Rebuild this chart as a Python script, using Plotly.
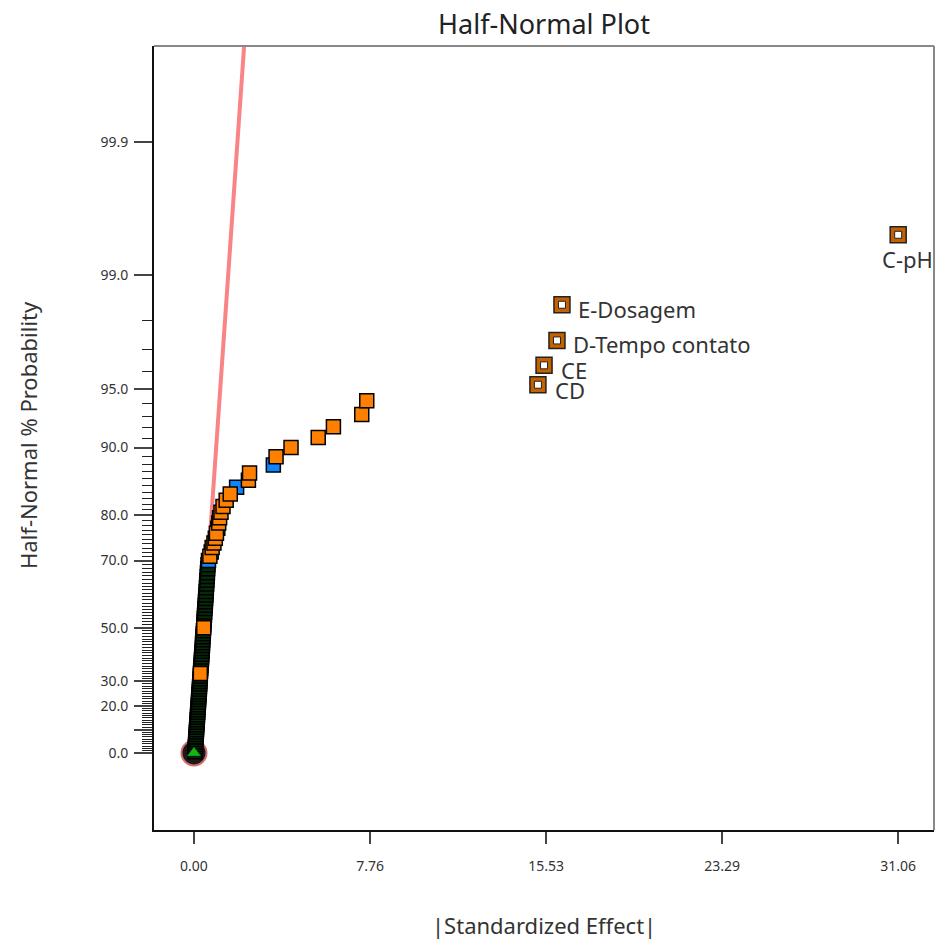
import plotly.graph_objects as go
from statistics import NormalDist

# ---------------- data ----------------
error_effects = [
    0.044, 0.051, 0.059, 0.066, 0.074, 0.082, 0.089, 0.096, 0.104, 0.112,
    0.119, 0.127, 0.135, 0.142, 0.150, 0.157, 0.165, 0.173, 0.181, 0.189,
    0.197, 0.205, 0.213, 0.221, 0.229, 0.237, 0.245, 0.253, 0.259, 0.268,
    0.277, 0.293, 0.302, 0.311, 0.319, 0.328, 0.337, 0.346, 0.355, 0.364,
    0.374, 0.378, 0.387, 0.397, 0.406, 0.415, 0.436, 0.444, 0.453, 0.463,
    0.473, 0.483, 0.494, 0.504, 0.515, 0.526, 0.536, 0.547, 0.559, 0.570,
    0.582, 0.593, 0.605, 0.618,
]
positive_effects = [0.28, 0.43, 0.70, 0.80, 0.88, 0.94, 0.99, 1.09, 1.13, 1.19,
                    1.28, 1.42, 1.60, 2.40, 2.45, 3.62, 4.28, 5.48, 6.15, 7.40, 7.62]
negative_effects = [0.64, 0.76, 1.05, 1.88, 3.50]
labeled_names = ["CD", "CE", "D-Tempo contato", "E-Dosagem", "C-pH"]
labeled_effects = [15.17, 15.44, 16.01, 16.23, 31.06]

origin_effect = [0.0]
origin_prob = [0.0]

prob_ticks = [0.0, 10.0, 20.0, 30.0, 50.0, 70.0, 80.0, 90.0, 95.0, 99.0, 99.9]
prob_labels = ["0.0", "", "20.0", "30.0", "50.0", "70.0", "80.0", "90.0", "95.0", "99.0", "99.9"]
minor_probs = [p for p in range(1, 99) if p not in (10, 20, 30, 50, 70, 80, 90, 95)]
x_tick_labels = ["0.00", "7.76", "15.53", "23.29", "31.06"]

# ---------------- half-normal scale ----------------
nd = NormalDist()


def hn(p_percent):
    return nd.inv_cdf(0.5 + 0.5 * p_percent / 100.0)


items = ([(v, "err", None) for v in error_effects]
         + [(v, "pos", None) for v in positive_effects]
         + [(v, "neg", None) for v in negative_effects]
         + [(v, "lab", nm) for v, nm in zip(labeled_effects, labeled_names)])
items.sort(key=lambda t: t[0])
n = len(items)
zs = [nd.inv_cdf(0.5 + 0.5 * (i + 0.5) / n) for i in range(n)]

groups = {"err": ([], []), "pos": ([], []), "neg": ([], []), "lab": ([], [])}
lab_text = []
for (v, k, nm), z in zip(items, zs):
    groups[k][0].append(v)
    groups[k][1].append(z)
    if k == "lab":
        lab_text.append(nm)

# least-squares line (z on effect) fitted to the error estimates
ex, ez = groups["err"]
mx = sum(ex) / len(ex)
mz = sum(ez) / len(ez)
slope = sum((a - mx) * (b - mz) for a, b in zip(ex, ez)) / sum((a - mx) ** 2 for a in ex)
icpt = mz - slope * mx

y_top = 3.807
y_bot = -0.4147
x_left = -1.764
x_right = 32.64
line_z = [0.0, y_top * 1.02]
line_x = [(z - icpt) / slope for z in line_z]

xmax = max(labeled_effects)
x_ticks = [xmax * k / 4 for k in range(5)]

fig = go.Figure()

fig.add_trace(go.Scatter(
    x=line_x, y=line_z, mode="lines",
    line=dict(color="#f98486", width=4), hoverinfo="skip", showlegend=False))

fig.add_trace(go.Scatter(
    x=origin_effect, y=origin_prob, mode="markers",
    marker=dict(symbol="circle", size=25, color="#1a1a1a",
                line=dict(color="#d86a6a", width=2)), showlegend=False))

fig.add_trace(go.Scatter(
    x=groups["err"][0], y=groups["err"][1], mode="markers",
    marker=dict(symbol="square", size=14, color="#072a0a",
                line=dict(color="#000000", width=1.5)), showlegend=False))

fig.add_trace(go.Scatter(
    x=groups["neg"][0], y=groups["neg"][1], mode="markers",
    marker=dict(symbol="square", size=14, color="#0a84ff",
                line=dict(color="#000000", width=1.5)), showlegend=False))

fig.add_trace(go.Scatter(
    x=groups["pos"][0], y=groups["pos"][1], mode="markers",
    marker=dict(symbol="square", size=14, color="#ff8000",
                line=dict(color="#000000", width=1.5)), showlegend=False))

fig.add_trace(go.Scatter(
    x=groups["lab"][0], y=groups["lab"][1], mode="markers",
    marker=dict(symbol="square", size=16, color="#c46200",
                line=dict(color="#222222", width=1.5)), showlegend=False))
fig.add_trace(go.Scatter(
    x=groups["lab"][0], y=groups["lab"][1], mode="markers",
    marker=dict(symbol="square", size=7, color="#ffffff",
                line=dict(color="#222222", width=1)), showlegend=False))

fig.add_trace(go.Scatter(
    x=origin_effect, y=origin_prob, mode="markers",
    marker=dict(symbol="triangle-up", size=12, color="#16b516",
                line=dict(color="#0a5a0a", width=0.5)), showlegend=False))

label_font = dict(family="Noto Sans, Open Sans, sans-serif", size=22, color="#333333")
for v, z, nm in zip(groups["lab"][0], groups["lab"][1], lab_text):
    if nm == "C-pH":
        fig.add_annotation(x=v, y=z, text=nm, showarrow=False, xanchor="center",
                           yanchor="middle", xshift=9, yshift=-24, font=label_font)
    else:
        shift = {"E-Dosagem": (14, -4), "D-Tempo contato": (14, -4),
                 "CE": (15, -5), "CD": (15, -5)}[nm]
        fig.add_annotation(x=v, y=z, text=nm, showarrow=False, xanchor="left",
                           yanchor="middle", xshift=shift[0], yshift=shift[1], font=label_font)

tick_font = dict(family="Noto Sans, Open Sans, sans-serif", size=14, color="#333333")

W, H = 936, 940
fig.update_layout(
    width=W, height=H,
    margin=dict(l=154, r=2, t=46, b=110),
    paper_bgcolor="white", plot_bgcolor="white",
    title=dict(text="Half-Normal Plot", x=0.5, xref="paper", xanchor="center",
               y=1 - 25 / H, yref="container", yanchor="middle",
               font=dict(family="Noto Sans, Open Sans, sans-serif", size=27, color="#222222")),
    xaxis=dict(range=[x_left, x_right], tickmode="array", tickvals=x_ticks,
               ticktext=x_tick_labels, ticks="outside", ticklen=12, tickwidth=1.5,
               tickcolor="#444444", showline=True, linecolor="#111111", linewidth=2,
               showgrid=False, zeroline=False, tickfont=tick_font, ticklabelstandoff=10),
    yaxis=dict(range=[y_bot, y_top], tickmode="array",
               tickvals=[hn(p) for p in prob_ticks], ticktext=prob_labels,
               ticks="outside", ticklen=18, tickwidth=1.5, tickcolor="#444444",
               showline=True, linecolor="#111111", linewidth=2,
               showgrid=False, zeroline=False, tickfont=tick_font, ticklabelstandoff=3,
               minor=dict(tickmode="array", tickvals=[hn(p) for p in minor_probs],
                          ticks="outside", ticklen=10, tickwidth=1.2, tickcolor="#222222",
                          showgrid=False)),
    showlegend=False,
)

fig.add_shape(type="line", xref="paper", yref="paper", x0=0, x1=1, y0=1, y1=1,
              line=dict(color="#888888", width=2))
fig.add_shape(type="line", xref="paper", yref="paper", x0=1, x1=1, y0=0, y1=1,
              line=dict(color="#888888", width=2))

axis_font = dict(family="Noto Sans, Open Sans, sans-serif", size=22, color="#333333")
fig.add_annotation(text="|Standardized Effect|", xref="paper", yref="paper",
                   x=0.5, y=-(925 - 830) / 784, showarrow=False,
                   xanchor="center", yanchor="middle", font=axis_font)
fig.add_annotation(text="Half-Normal % Probability", xref="paper", yref="paper",
                   x=-(154 - 28) / 780, y=(830 - 435) / 784, showarrow=False,
                   textangle=-90, xanchor="center", yanchor="middle", font=axis_font)

fig.write_html("out.html", config=dict(displayModeBar=False),
               post_script="document.body.style.margin='0';document.body.style.overflow='hidden';")
